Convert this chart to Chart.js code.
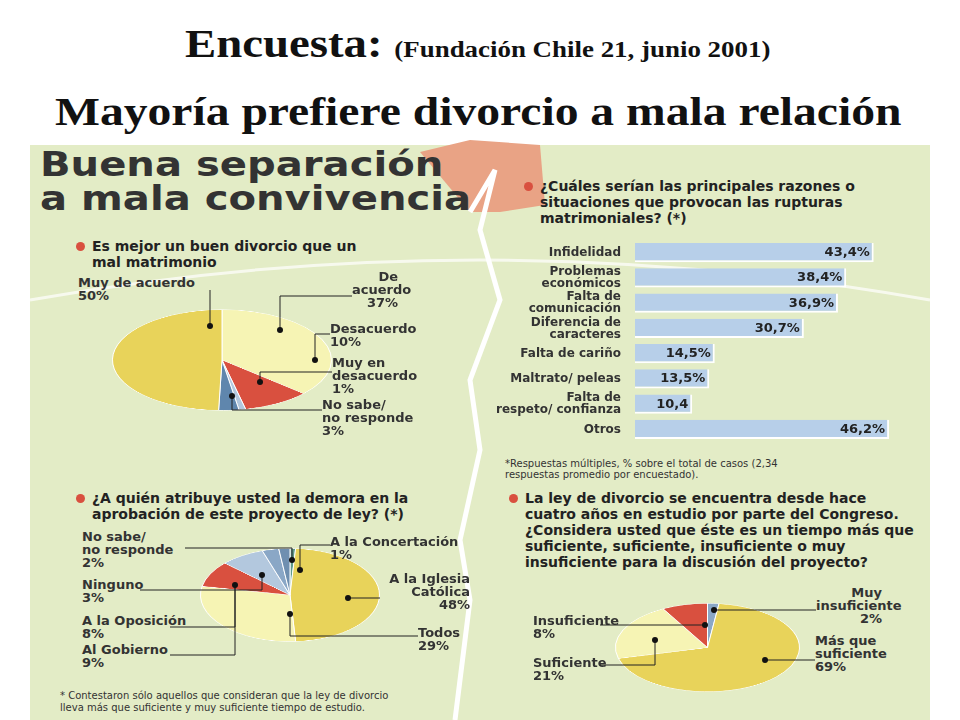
<!DOCTYPE html>
<html><head><meta charset="utf-8">
<script src="https://cdn.jsdelivr.net/npm/chart.js@4"></script>
<style>
body{margin:0;width:960px;height:720px;background:#fff;position:relative;overflow:hidden;font-family:"DejaVu Sans",sans-serif}
.t{position:absolute;font-family:"Liberation Serif",serif;font-weight:bold;color:#111;white-space:nowrap;transform-origin:0 0}
#panel{position:absolute;left:30px;top:145px;width:900px;height:575px;background:#e3ecc6}
.lb{position:absolute;font-size:13px;font-weight:bold;color:#333;line-height:13px;white-space:nowrap}
.q{position:absolute;font-size:14px;font-weight:bold;color:#222;line-height:16px}
.q:before{content:"";position:absolute;left:-16px;top:4px;width:9px;height:9px;border-radius:50%;background:#d9503f}
.pie{position:absolute;transform-origin:50% 50%}
svg{position:absolute;left:0;top:0}
</style></head><body>
<div class="t" style="left:185px;top:20px;font-size:40px;transform:scaleX(1.17)">Encuesta: <span style="font-size:23px">(Fundación Chile 21, junio 2001)</span></div>
<div class="t" style="left:55px;top:88px;font-size:40px;transform:scaleX(1.19)">Mayoría prefiere divorcio a mala relación</div>
<div id="panel"></div>
<svg width="960" height="720">
<polygon points="420,152 470,140 540,145 545,205 500,212 470,212" fill="#e9a385"/>
<path d="M470,212 L495,170 L480,230 L500,300 L470,380 L480,450 L460,540 L470,600 L455,720" stroke="#fff" stroke-width="5" fill="none"/>
<path d="M30,300 Q480,220 930,300" stroke="#fff" stroke-width="3" fill="none" opacity="0.7"/>
</svg>
<div class="t" style="left:40px;top:147px;font-family:'DejaVu Sans';font-size:34px;line-height:34px;color:#333;transform:scaleX(1.18)">Buena separación<br>a mala convivencia</div>
<div class="q" style="left:92px;top:238px">Es mejor un buen divorcio que un<br>mal matrimonio</div>
<div class="q" style="left:540px;top:178px">¿Cuáles serían las principales razones o<br>situaciones que provocan las rupturas<br>matrimoniales? (*)</div>
<div class="q" style="left:92px;top:490px">¿A quién atribuye usted la demora en la<br>aprobación de este proyecto de ley? (*)</div>
<div class="q" style="left:525px;top:490px">La ley de divorcio se encuentra desde hace<br>cuatro años en estudio por parte del Congreso.<br>¿Considera usted que éste es un tiempo más que<br>suficiente, suficiente, insuficiente o muy<br>insuficiente para la discusión del proyecto?</div>
<div class="lb" style="left:505px;top:458px;font-size:10px;font-weight:normal;line-height:11px">*Respuestas múltiples, % sobre el total de casos (2,34<br>respuestas promedio por encuestado).</div>
<div class="lb" style="left:60px;top:690px;font-size:10px;font-weight:normal;line-height:12px">* Contestaron sólo aquellos que consideran que la ley de divorcio<br>lleva más que suficiente y muy suficiente tiempo de estudio.</div>

<div class="pie" style="left:112px;top:250px;width:220px;height:220px;transform:scaleY(0.46)"><canvas id="p1"></canvas></div>
<div class="pie" style="left:200px;top:505px;width:180px;height:180px;transform:scaleY(0.52)"><canvas id="p2"></canvas></div>
<div class="pie" style="left:615px;top:555px;width:185px;height:185px;transform:scaleY(0.48)"><canvas id="p3"></canvas></div>
<div style="position:absolute;left:490px;top:228px;width:420px;height:226px"><canvas id="bars"></canvas></div>

<div class="lb" style="left:78px;top:276px">Muy de acuerdo<br>50%</div>
<div class="lb" style="left:352px;top:270px;text-align:right;width:46px">De<br>acuerdo<br>37%</div>
<div class="lb" style="left:330px;top:322px">Desacuerdo<br>10%</div>
<div class="lb" style="left:332px;top:356px">Muy en<br>desacuerdo<br>1%</div>
<div class="lb" style="left:322px;top:398px">No sabe/<br>no responde<br>3%</div>
<div class="lb" style="left:82px;top:530px">No sabe/<br>no responde<br>2%</div>
<div class="lb" style="left:82px;top:578px">Ninguno<br>3%</div>
<div class="lb" style="left:82px;top:614px">A la Oposición<br>8%</div>
<div class="lb" style="left:82px;top:643px">Al Gobierno<br>9%</div>
<div class="lb" style="left:330px;top:535px">A la Concertación<br>1%</div>
<div class="lb" style="left:380px;top:572px;text-align:right;width:90px">A la Iglesia<br>Católica<br>48%</div>
<div class="lb" style="left:418px;top:626px">Todos<br>29%</div>
<div class="lb" style="left:816px;top:586px;text-align:right;width:66px">Muy<br>insuficiente<br>2%</div>
<div class="lb" style="left:815px;top:634px">Más que<br>suficiente<br>69%</div>
<div class="lb" style="left:533px;top:614px">Insuficiente<br>8%</div>
<div class="lb" style="left:533px;top:656px">Suficiente<br>21%</div>
<svg width="960" height="720" style="pointer-events:none">
<g stroke="#222" stroke-width="1" fill="none">
<path d="M210,290 V326"/><path d="M352,296 H280 V330"/><path d="M330,334 H315 V360"/>
<path d="M332,372 H260 V382"/><path d="M322,410 H232 V396"/>
<path d="M330,545 H300 V570"/><path d="M380,598 H348"/><path d="M418,636 H290 V614"/>
<path d="M185,548 H292 V560"/><path d="M140,590 H262 V575"/><path d="M170,627 H235 V585"/><path d="M170,655 H235 V585"/>
<path d="M816,610 H714"/><path d="M815,660 H765"/><path d="M600,625 H705"/><path d="M600,665 H655 V640"/>
</g>
<g fill="#111"><circle cx="210" cy="326" r="3"/><circle cx="280" cy="330" r="3"/><circle cx="315" cy="360" r="3"/><circle cx="260" cy="382" r="3"/><circle cx="232" cy="396" r="3"/>
<circle cx="300" cy="570" r="3"/><circle cx="348" cy="598" r="3"/><circle cx="290" cy="614" r="3"/><circle cx="292" cy="560" r="3"/><circle cx="262" cy="575" r="3"/><circle cx="235" cy="585" r="3"/>
<circle cx="714" cy="610" r="3"/><circle cx="765" cy="660" r="3"/><circle cx="705" cy="625" r="3"/><circle cx="655" cy="640" r="3"/></g>
</svg>
<script>
// pie 1: "Es mejor un buen divorcio..." (sentido horario desde arriba)
var p1Labels = ['De acuerdo','Desacuerdo','Muy en desacuerdo','No sabe/no responde','Muy de acuerdo'];
var p1Values = [37,10,1,3,50];
var p1Colors = ['#f6f4b4','#d9503f','#b3c8de','#5f86ad','#e8d35a'];
// pie 2: demora en la aprobación
var p2Labels = ['A la Concertación','A la Iglesia Católica','Todos','Al Gobierno','A la Oposición','Ninguno','No sabe/no responde'];
var p2Values = [1,48,29,9,8,3,2];
var p2Colors = ['#5f9a8a','#e8d35a','#f6f4b4','#d9503f','#b3c8de','#8aa7c6','#6f8fb0'];
// pie 3: tiempo de estudio
var p3Labels = ['Muy insuficiente','Más que suficiente','Suficiente','Insuficiente'];
var p3Values = [2,69,21,8];
var p3Colors = ['#8aa7c6','#e8d35a','#f6f4b4','#d9503f'];
// barras: razones de ruptura
var barLabels = [['Infidelidad'],['Problemas','económicos'],['Falta de','comunicación'],['Diferencia de','caracteres'],['Falta de cariño'],['Maltrato/ peleas'],['Falta de','respeto/ confianza'],['Otros']];
var barValues = [43.4,38.4,36.9,30.7,14.5,13.5,10.4,46.2];
var barText = ['43,4%','38,4%','36,9%','30,7%','14,5%','13,5%','10,4','46,2%'];

function pie(id, labels, values, colors){
  new Chart(document.getElementById(id), {
    type:'pie',
    data:{labels:labels, datasets:[{data:values, backgroundColor:colors, borderColor:'#fff', borderWidth:1}]},
    options:{responsive:true, maintainAspectRatio:false, animation:false,
      plugins:{legend:{display:false}, tooltip:{enabled:false}}}
  });
}
pie('p1', p1Labels, p1Values, p1Colors);
pie('p2', p2Labels, p2Values, p2Colors);
pie('p3', p3Labels, p3Values, p3Colors);

var valueLabels = {
  id:'valueLabels',
  afterDatasetsDraw:function(chart){
    var ctx = chart.ctx;
    ctx.save();
    ctx.font = 'bold 13px "DejaVu Sans"';
    ctx.fillStyle = '#222';
    ctx.textAlign = 'right';
    ctx.textBaseline = 'middle';
    chart.getDatasetMeta(0).data.forEach(function(b, i){
      ctx.fillText(barText[i], b.x - 4, b.y);
    });
    ctx.restore();
  }
};
new Chart(document.getElementById('bars'), {
  type:'bar',
  data:{labels:barLabels, datasets:[{data:barValues, backgroundColor:'#b7cfe9', borderColor:'#ffffff', borderWidth:{right:2,bottom:2}, borderSkipped:false, categoryPercentage:0.8, barPercentage:0.95}]},
  options:{indexAxis:'y', responsive:true, maintainAspectRatio:false, animation:false,
    layout:{padding:0},
    plugins:{legend:{display:false}, tooltip:{enabled:false}},
    scales:{
      x:{display:false, min:0, max:50},
      y:{grid:{display:false}, border:{display:false},
         afterFit:function(s){s.width = 145;},
         ticks:{color:'#333', font:{family:'DejaVu Sans', size:12, weight:'bold', lineHeight:1}, padding:6}}
    }},
  plugins:[valueLabels]
});
</script>
</body></html>
